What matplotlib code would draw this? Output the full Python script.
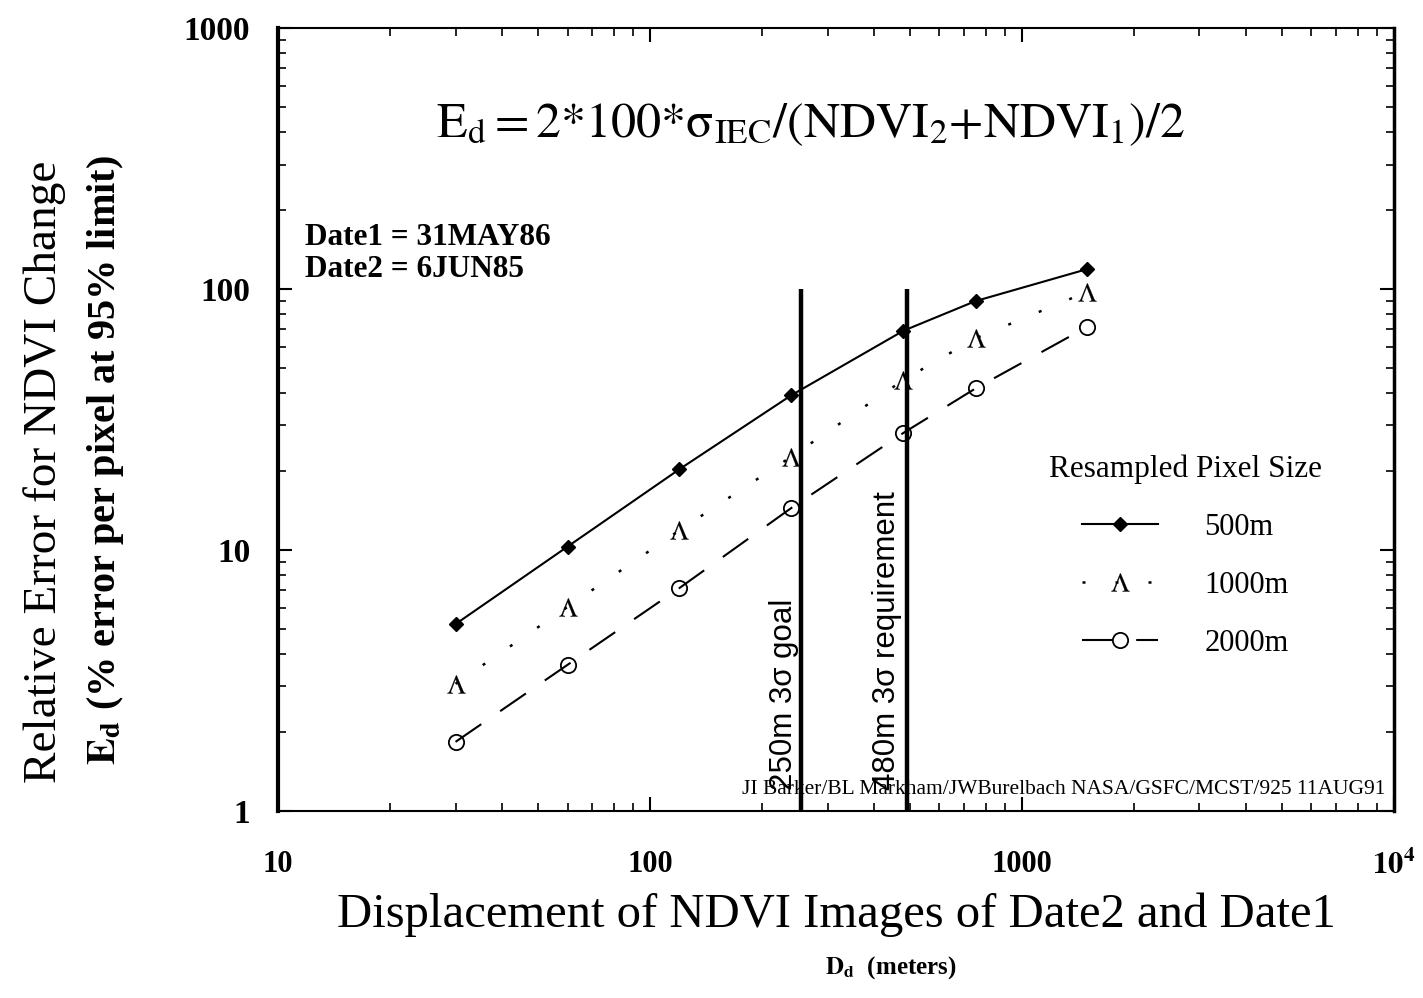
import matplotlib
matplotlib.use("Agg")
import matplotlib.pyplot as plt

plt.rcParams["font.family"] = "serif"
plt.rcParams["font.serif"] = ["Liberation Serif", "DejaVu Serif"]
plt.rcParams["mathtext.fontset"] = "stix"

# displacement of the two NDVI images (meters)
DISPLACEMENT_M = [30, 60, 120, 240, 480, 750, 1500]

# relative error E_d (%) per resampled pixel size
ERR_500M = [5.2, 10.3, 20.4, 39.2, 69.2, 89.9, 119.3]
ERR_1000M = [3.07, 6.05, 11.9, 22.8, 44.8, 64.7, 97.7]
ERR_2000M = [1.84, 3.63, 7.15, 14.5, 28.1, 41.6, 71.7]
SERIES_LABELS = ["500m", "1000m", "2000m"]

# vertical reference lines, as drawn in the figure
GOAL_M = 255
REQUIREMENT_M = 490
GOAL_LABEL = "250m 3\u03c3 goal"
REQUIREMENT_LABEL = "480m 3\u03c3 requirement"

X_TICKS = [10, 100, 1000, 10000]
X_TICK_LABELS = ["10", "100", "1000", r"$\mathbf{10^4}$"]
Y_TICKS = [1, 10, 100, 1000]
Y_TICK_LABELS = ["1", "10", "100", "1000"]

fig = plt.figure(figsize=(14.23, 9.98), dpi=100)
ax = fig.add_axes([0.1954, 0.1874, 0.7842, 0.7845])
ax.set_xscale("log")
ax.set_yscale("log")
ax.set_xlim(10, 1e4)
ax.set_ylim(1, 1000)

ax.plot(DISPLACEMENT_M, ERR_500M, color="black", lw=1.5, marker="D", ms=7,
        label=SERIES_LABELS[0])
ax.plot(DISPLACEMENT_M, ERR_1000M, color="black", lw=1.8, dashes=(1.2, 12),
        marker=r"$\Lambda$", ms=13, mew=0.2, label=SERIES_LABELS[1])
ax.plot(DISPLACEMENT_M, ERR_2000M, color="black", lw=1.5, dashes=(15, 11),
        marker="o", ms=11, mfc="none", mew=1.3, label=SERIES_LABELS[2])

ax.vlines([GOAL_M, REQUIREMENT_M], 1, 100, colors="black", lw=3.2)
ax.text(GOAL_M / 1.015, 1.2, GOAL_LABEL, rotation=90, ha="right", va="bottom",
        family="Liberation Sans", fontsize=22.5)
ax.text(REQUIREMENT_M / 1.03, 1.2, REQUIREMENT_LABEL, rotation=90, ha="right",
        va="bottom", family="Liberation Sans", fontsize=22.5)

ax.set_xticks(X_TICKS)
ax.set_xticklabels(X_TICK_LABELS, fontweight="bold", fontsize=22)
ax.set_yticks(Y_TICKS)
ax.set_yticklabels(Y_TICK_LABELS, fontweight="bold", fontsize=24)
ax.tick_params(which="both", direction="in", top=True, right=True)
ax.tick_params(axis="x", which="major", length=10, width=1.5, pad=28)
ax.tick_params(axis="y", which="major", length=10, width=1.5, pad=20)
ax.tick_params(which="minor", length=6, width=1.2)
ax.spines["left"].set_linewidth(3)
ax.spines["right"].set_linewidth(2.5)
ax.spines["top"].set_linewidth(1.5)
ax.spines["bottom"].set_linewidth(1.5)

ax.text(0.477, 0.876,
        r"$\mathrm{E_d = 2{*}100{*}\sigma_{IEC}/(NDVI_2{+}NDVI_1)/2}$",
        transform=ax.transAxes, ha="center", va="center", fontsize=36)
ax.text(0.024, 0.733, "Date1 = 31MAY86", transform=ax.transAxes,
        ha="left", va="center", fontsize=22.5, fontweight="bold")
ax.text(0.024, 0.692, "Date2 = 6JUN85", transform=ax.transAxes,
        ha="left", va="center", fontsize=22.5, fontweight="bold")
ax.text(0.992, 0.027,
        "JI Barker/BL Markham/JWBurelbach NASA/GSFC/MCST/925 11AUG91",
        transform=ax.transAxes, ha="right", va="center", fontsize=15.5)

ax.legend(title="Resampled Pixel Size", loc="upper center",
          bbox_to_anchor=(0.813, 0.475), frameon=False, fontsize=22,
          title_fontsize=22.5, handlelength=2.5, handletextpad=1.5,
          labelspacing=0.95, borderpad=0, alignment="center")

fig.text(0.588, 0.083, "Displacement of NDVI Images of Date2 and Date1",
         ha="center", va="center", fontsize=35)
fig.text(0.626, 0.030, r"$\mathbf{D_d}$  (meters)", ha="center", va="center",
         fontsize=18, fontweight="bold")
fig.text(0.0316, 0.527, "Relative Error for NDVI Change", rotation=90,
         ha="center", va="center", fontsize=34)
fig.text(0.0738, 0.539, r"$\mathbf{E_d}$ (% error per pixel at 95% limit)",
         rotation=90, ha="center", va="center", fontsize=29, fontweight="bold")

fig.savefig("out.png", dpi=100)
